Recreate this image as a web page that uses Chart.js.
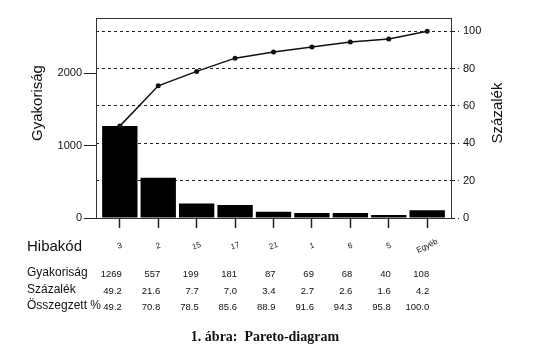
<!DOCTYPE html>
<html>
<head>
<meta charset="utf-8">
<script src="https://cdn.jsdelivr.net/npm/chart.js@4"></script>
<style>
  html, body { margin: 0; padding: 0; background: #fff; }
  #wrap { width: 545px; height: 355px; }
</style>
</head>
<body>
<div id="wrap"><canvas id="pareto" width="545" height="355"></canvas></div>
<script>
const hibakod = ['3', '2', '15', '17', '21', '1', '6', '5', 'Egyéb'];
const gyakorisag = [1269, 557, 199, 181, 87, 69, 68, 40, 108];
const szazalek = ['49.2', '21.6', '7.7', '7.0', '3.4', '2.7', '2.6', '1.6', '4.2'];
const osszegzett = [49.2, 70.8, 78.5, 85.6, 88.9, 91.6, 94.3, 95.8, 100.0];
const pctTicks = [0, 20, 40, 60, 80, 100];
const freqTicks = [0, 1000, 2000];

const total = gyakorisag.reduce((a, b) => a + b, 0);
const pctMax = 107.1;
const freqMax = total * pctMax / 100;   // keeps 100% level with the total count

const ink = '#111';

// table under the chart, title texts, frame
const paretoText = {
    id: 'paretoText',
    afterDraw(chart) {
        const { ctx, chartArea: a } = chart;
        const x = chart.scales.x;
        ctx.save();
        ctx.strokeStyle = '#333';
        ctx.lineWidth = 1;
        ctx.setLineDash([]);
        ctx.strokeRect(a.left + 0.5, a.top + 0.5, a.right - a.left, a.bottom - a.top);

        ctx.fillStyle = ink;
        ctx.font = '15px "Liberation Sans", Arial, sans-serif';
        ctx.textAlign = 'center';
        ctx.textBaseline = 'middle';
        ctx.save();
        ctx.translate(38, 103);
        ctx.rotate(-Math.PI / 2);
        ctx.fillText('Gyakoriság', 0, 0);
        ctx.restore();
        ctx.save();
        ctx.translate(498, 113);
        ctx.rotate(-Math.PI / 2);
        ctx.fillText('Százalék', 0, 0);
        ctx.restore();

        ctx.textAlign = 'left';
        ctx.fillText('Hibakód', 27, 247);

        ctx.font = '8px "Liberation Sans", Arial, sans-serif';
        ctx.textAlign = 'center';
        hibakod.forEach((c, i) => {
            ctx.save();
            ctx.translate(x.getPixelForValue(i), 246);
            ctx.rotate(c.length > 2 ? -0.45 : -0.3);
            ctx.fillText(c, 0, 0);
            ctx.restore();
        });

        const rows = [
            ['Gyakoriság', gyakorisag.map(String), 273],
            ['Százalék', szazalek, 290],
            ['Összegzett %', osszegzett.map(v => v.toFixed(1)), 306]
        ];
        rows.forEach(([label, vals, y]) => {
            ctx.font = '12px "Liberation Sans", Arial, sans-serif';
            ctx.textAlign = 'left';
            ctx.fillText(label, 27, y);
            ctx.font = '9.5px "Liberation Sans Narrow", "Liberation Sans", Arial, sans-serif';
            ctx.textAlign = 'right';
            vals.forEach((v, i) => ctx.fillText(v, x.getPixelForValue(i) + 2, y + 1));
        });

        ctx.font = 'bold 14px "Liberation Serif", "Times New Roman", serif';
        ctx.textAlign = 'center';
        ctx.fillText('1. ábra:  Pareto-diagram', 265, 337);
        ctx.restore();
    }
};

new Chart(document.getElementById('pareto'), {
    data: {
        datasets: [{
            type: 'line',
            data: osszegzett.map((v, i) => ({ x: i, y: v })),
            yAxisID: 'y2',
            borderColor: ink,
            borderWidth: 1.5,
            pointRadius: 2.5,
            pointBackgroundColor: ink,
            pointBorderWidth: 0,
            tension: 0
        }, {
            type: 'bar',
            data: gyakorisag.map((v, i) => ({ x: i, y: v })),
            yAxisID: 'y',
            backgroundColor: '#000',
            categoryPercentage: 1,
            barPercentage: 0.92
        }]
    },
    options: {
        responsive: false,
        animation: false,
        layout: { padding: { top: 18, left: 0, right: 0, bottom: 0 } },
        plugins: { legend: { display: false }, tooltip: { enabled: false } },
        scales: {
            x: {
                type: 'linear',
                offset: false,
                min: -0.62,
                max: 8.62,
                afterBuildTicks: s => { s.ticks = hibakod.map((_, i) => ({ value: i })); },
                ticks: { display: false },
                grid: { offset: false, drawOnChartArea: false, tickLength: 10, tickColor: '#222', tickWidth: 1.5 },
                border: { display: false },
                afterFit: s => { s.height = 137; }
            },
            y: {
                position: 'left',
                min: 0,
                max: freqMax,
                afterBuildTicks: s => { s.ticks = freqTicks.map(v => ({ value: v })); },
                ticks: {
                    color: ink, padding: 2,
                    font: { size: 11, family: '"Liberation Sans", Arial' },
                    callback: v => String(v)
                },
                grid: { drawOnChartArea: false, tickLength: 12, tickColor: '#222' },
                border: { display: false },
                afterFit: s => { s.width = 96; }
            },
            y2: {
                position: 'right',
                min: 0,
                max: pctMax,
                afterBuildTicks: s => { s.ticks = pctTicks.map(v => ({ value: v })); },
                ticks: { color: ink, padding: 4, font: { size: 11, family: '"Liberation Sans", Arial' } },
                grid: {
                    color: c => (c.tick && c.tick.value === 0) ? 'rgba(0,0,0,0)' : '#222',
                    tickColor: '#222',
                    tickLength: 8,
                    borderDash: [3, 3],
                    tickBorderDash: [3, 3],
                    lineWidth: 1
                },
                border: { display: true, color: '#333', dash: [3, 3] },
                afterFit: s => { s.width = 94; }
            }
        }
    },
    plugins: [paretoText]
});
</script>
</body>
</html>
